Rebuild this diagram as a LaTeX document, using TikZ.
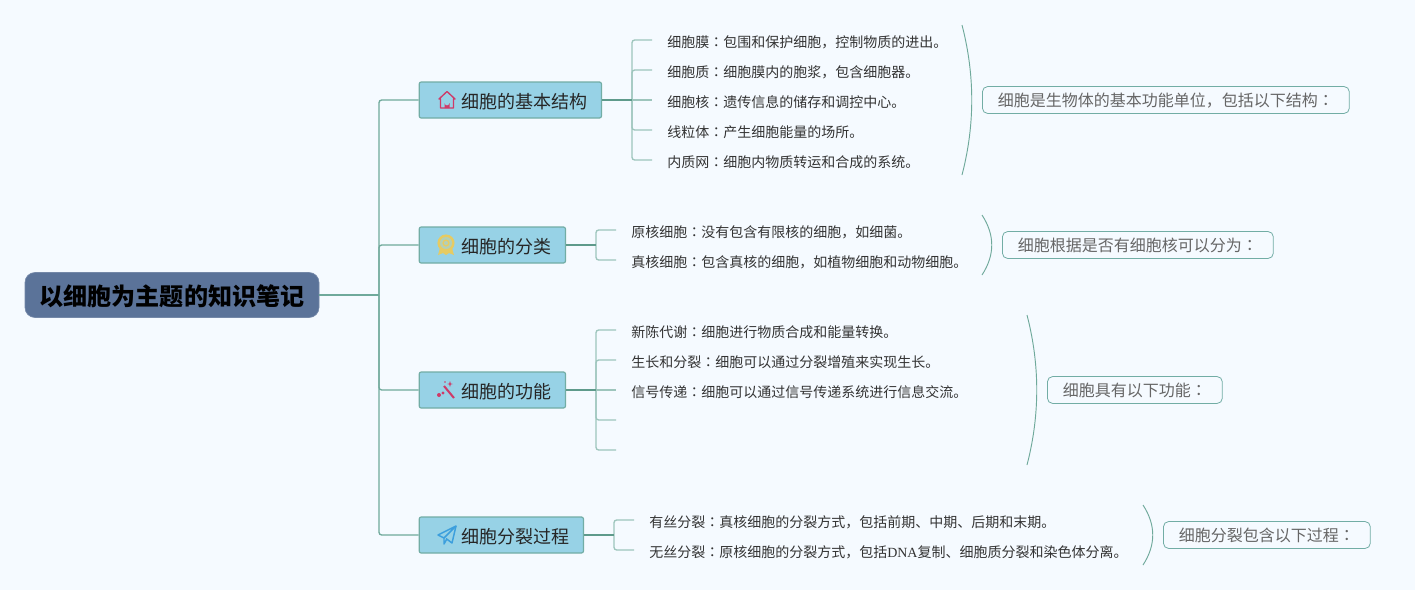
\documentclass[tikz,border=0pt]{standalone}
\usepackage{xcolor}
\usepackage{fontspec}
\setmainfont{Noto Sans CJK SC}
\newfontfamily\latinserif{Liberation Serif}
\newfontfamily\colonfont{Noto Sans CJK TC}
\newcommand{\cm}{{\colonfont ：}}
\usepackage{tikz}

\definecolor{bgcol}{HTML}{F5FAFF}
\definecolor{rootcol}{HTML}{5B7399}
\definecolor{topiccol}{HTML}{97D2E6}
\definecolor{edgecol}{HTML}{72ADA5}
\definecolor{linecol}{HTML}{6FA99B}
\definecolor{leafline}{HTML}{9DC5BC}
\definecolor{stemcol}{HTML}{5E9A8B}
\definecolor{homecol}{HTML}{CF3A68}
\definecolor{medalcol}{HTML}{E6CB63}
\definecolor{planecol}{HTML}{3C9FDD}

\begin{document}
\begin{tikzpicture}[x=0.75pt,y=-0.75pt,
rootbox/.style={text height=16.6pt,text depth=1pt,rounded corners=7.5pt,fill=rootcol,draw=rootcol!85!white,line width=0.5pt,minimum height=33.75pt,minimum width=220.5pt,inner sep=0pt,font=\fontsize{18.05}{20}\selectfont\bfseries,text=black},
topicbox/.style={text height=14.2pt,text depth=1pt,anchor=west,rounded corners=1.5pt,fill=topiccol,draw=edgecol,line width=0.9pt,minimum height=27pt,inner xsep=10.8pt,inner ysep=0pt,font=\fontsize{13.5}{16}\selectfont,text=black!85,execute at begin node={\hspace*{20.6pt}}},
leafbox/.style={text height=11.4pt,text depth=0.6pt,anchor=west,inner xsep=11.25pt,inner ysep=0pt,font=\fontsize{10.5}{13}\selectfont,text=black!80},
notebox/.style={text height=10.7pt,text depth=1.3pt,anchor=west,rounded corners=4pt,draw=edgecol,fill=bgcol,line width=0.6pt,minimum height=20.25pt,inner xsep=11.6pt,inner ysep=0pt,font=\fontsize{12}{14}\selectfont,text=black!60},
trunk/.style={linecol,line width=1pt,rounded corners=2pt},
stem/.style={stemcol,line width=1.3pt},
twig/.style={leafline,line width=1pt,rounded corners=2pt},
brace/.style={linecol,line width=0.7pt},
]
\fill[bgcol] (0,0) rectangle (1415,590);

\node[rootbox] (root) at (172,295){以细胞为主题的知识笔记};

\node[topicbox] (topicA) at (418.6,100){细胞的基本结构};
\node[topicbox] (topicB) at (418.6,245){细胞的分类};
\node[topicbox] (topicC) at (418.6,390){细胞的功能};
\node[topicbox] (topicD) at (418.6,535){细胞分裂过程};

% trunk
\coordinate (hub) at (379,295);
\draw[trunk] (root.east) -- (hub);
\draw[trunk] (hub) |- (topicA.west);
\draw[trunk] (hub) |- (topicB.west);
\draw[trunk] (hub) |- (topicC.west);
\draw[trunk] (hub) |- (topicD.west);

% first branch
\node[leafbox] (leafA1) at (652,40){细胞膜\cm 包围和保护细胞，控制物质的进出。};
\node[leafbox] (leafA2) at (652,70){细胞质\cm 细胞膜内的胞浆，包含细胞器。};
\node[leafbox] (leafA3) at (652,100){细胞核\cm 遗传信息的储存和调控中心。};
\node[leafbox] (leafA4) at (652,130){线粒体\cm 产生细胞能量的场所。};
\node[leafbox] (leafA5) at (652,160){内质网\cm 细胞内物质转运和合成的系统。};
\coordinate (hubA) at (632,100);
\draw[twig] (hubA) |- (leafA1.west);
\draw[twig] (hubA) |- (leafA2.west);
\draw[twig] (hubA) -- (leafA3.west);
\draw[twig] (hubA) |- (leafA4.west);
\draw[twig] (hubA) |- (leafA5.west);
\draw[stem] (topicA.east) -- (hubA);

% second branch
\node[leafbox] (leafB1) at (616,230){原核细胞\cm 没有包含有限核的细胞，如细菌。};
\node[leafbox] (leafB2) at (616,260){真核细胞\cm 包含真核的细胞，如植物细胞和动物细胞。};
\coordinate (hubB) at (596,245);
\draw[twig] (hubB) |- (leafB1.west);
\draw[twig] (hubB) |- (leafB2.west);
\draw[stem] (topicB.east) -- (hubB);

% third branch
\node[leafbox] (leafC1) at (616,330){新陈代谢\cm 细胞进行物质合成和能量转换。};
\node[leafbox] (leafC2) at (616,360){生长和分裂\cm 细胞可以通过分裂增殖来实现生长。};
\node[leafbox] (leafC3) at (616,390){信号传递\cm 细胞可以通过信号传递系统进行信息交流。};
\coordinate (hubC) at (596,390);
\coordinate (endC4) at (616,420);
\coordinate (endC5) at (616,450);
\draw[twig] (hubC) |- (leafC1.west);
\draw[twig] (hubC) |- (leafC2.west);
\draw[twig] (hubC) -- (leafC3.west);
\draw[twig] (hubC) |- (endC4);
\draw[twig] (hubC) |- (endC5);
\draw[stem] (topicC.east) -- (hubC);

% fourth branch
\node[leafbox] (leafD1) at (634,520){有丝分裂\cm 真核细胞的分裂方式，包括前期、中期、后期和末期。};
\node[leafbox] (leafD2) at (634,550){无丝分裂\cm 原核细胞的分裂方式，包括{\latinserif DNA}复制、细胞质分裂和染色体分离。};
\coordinate (hubD) at (614,535);
\draw[twig] (hubD) |- (leafD1.west);
\draw[twig] (hubD) |- (leafD2.west);
\draw[stem] (topicD.east) -- (hubD);

% notes on the right
\node[notebox] (noteA) at (982,100){细胞是生物体的基本功能单位，包括以下结构\cm};
\node[notebox] (noteB) at (1002,245){细胞根据是否有细胞核可以分为\cm};
\node[notebox] (noteC) at (1047,390){细胞具有以下功能\cm};
\node[notebox] (noteD) at (1163,535){细胞分裂包含以下过程\cm};

\coordinate (braceA1) at (962,25);
\coordinate (braceA2) at (962,175);
\coordinate (braceB1) at (982,215);
\coordinate (braceB2) at (982,275);
\coordinate (braceC1) at (1027,315);
\coordinate (braceC2) at (1027,465);
\coordinate (braceD1) at (1143,505);
\coordinate (braceD2) at (1143,565);
\draw[brace] (braceA1) .. controls (975,75) and (975,125) .. (braceA2);
\draw[brace] (braceB1) .. controls (995,235) and (995,255) .. (braceB2);
\draw[brace] (braceC1) .. controls (1040,365) and (1040,415) .. (braceC2);
\draw[brace] (braceD1) .. controls (1156,525) and (1156,545) .. (braceD2);

% icons
\begin{scope}[shift={(447,100)}]
\draw[homecol,line width=1pt,line join=round] (-8,-1) -- (0,-8.5) -- (8,-1) -- (6.5,-1) -- (6.5,8) -- (-6.5,8) -- (-6.5,-1) -- cycle;
\fill[homecol] (-2.5,8) -- (-2.5,3) arc (180:360:2.5 and -2.5) -- (2.5,8) -- cycle;
\end{scope}
\begin{scope}[shift={(446,245)}]
\fill[medalcol] (-6,3) -- (-8,10) -- (-3,8) -- (0,10) -- (3,8) -- (8,10) -- (6,3) -- cycle;
\draw[medalcol,line width=1.8pt,fill=medalcol!35!topiccol] (0,-2) circle (5.5pt);
\draw[medalcol,line width=1pt] (0,-2) circle (2.2pt);
\end{scope}
\begin{scope}[shift={(447,391)}]
\draw[homecol,line width=1.5pt] (-3,-5) -- (7,7);
\fill[homecol] (3,-10) -- (3.8,-7.5) -- (6,-7) -- (3.8,-6.5) -- (3,-4) -- (2.2,-6.5) -- (0,-7) -- (2.2,-7.5) -- cycle;
\fill[homecol] (-8,4) circle (1.5pt) (-4,2) circle (1.2pt) (-2,-9) circle (0.6pt);
\end{scope}
\begin{scope}[shift={(447,535)}]
\draw[planecol,line width=1.1pt,line join=round] (9,-9) -- (-9,0) -- (-3,3) -- cycle;
\draw[planecol,line width=1.1pt,line join=round] (9,-9) -- (5,8) -- (-1,3.5);
\draw[planecol,line width=1.1pt,line join=round] (-3,3) -- (-3,9) -- (-0.5,4.5);
\end{scope}

\end{tikzpicture}
\end{document}
